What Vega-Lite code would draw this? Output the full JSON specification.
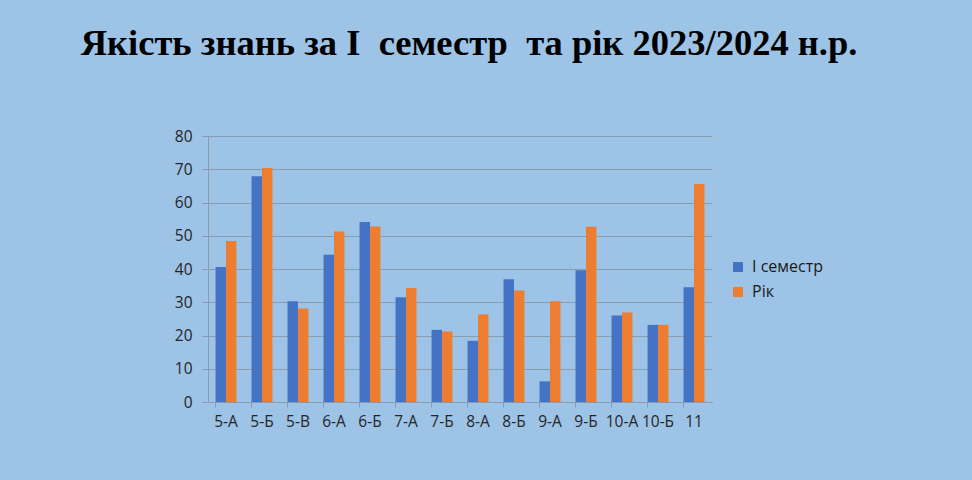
{
  "$schema": "https://vega.github.io/schema/vega-lite/v6.json",
  "autosize": "none",
  "width": 504,
  "height": 266,
  "padding": {"left": 208, "top": 136, "right": 260, "bottom": 78},
  "background": "#9DC3E6",
  "title": {
    "text": "Якість знань за І\u00a0 семестр\u00a0 та рік 2023/2024 н.р.",
    "font": "Liberation Serif",
    "fontSize": 36.5,
    "fontWeight": "bold",
    "color": "#000000",
    "anchor": "middle",
    "frame": "group",
    "baseline": "alphabetic",
    "offset": 38,
    "dx": 9
  },
  "data": {
    "values": [
      {"class": "5-А", "series": "І семестр", "value": 40.6},
      {"class": "5-А", "series": "Рік", "value": 48.4},
      {"class": "5-Б", "series": "І семестр", "value": 67.9},
      {"class": "5-Б", "series": "Рік", "value": 70.4},
      {"class": "5-В", "series": "І семестр", "value": 30.3},
      {"class": "5-В", "series": "Рік", "value": 28.1},
      {"class": "6-А", "series": "І семестр", "value": 44.3},
      {"class": "6-А", "series": "Рік", "value": 51.3},
      {"class": "6-Б", "series": "І семестр", "value": 54.1},
      {"class": "6-Б", "series": "Рік", "value": 52.8},
      {"class": "7-А", "series": "І семестр", "value": 31.5},
      {"class": "7-А", "series": "Рік", "value": 34.3},
      {"class": "7-Б", "series": "І семестр", "value": 21.7},
      {"class": "7-Б", "series": "Рік", "value": 21.2},
      {"class": "8-А", "series": "І семестр", "value": 18.4},
      {"class": "8-А", "series": "Рік", "value": 26.3},
      {"class": "8-Б", "series": "І семестр", "value": 36.9},
      {"class": "8-Б", "series": "Рік", "value": 33.5},
      {"class": "9-А", "series": "І семестр", "value": 6.2},
      {"class": "9-А", "series": "Рік", "value": 30.3},
      {"class": "9-Б", "series": "І семестр", "value": 39.6},
      {"class": "9-Б", "series": "Рік", "value": 52.7},
      {"class": "10-А", "series": "І семестр", "value": 26.0},
      {"class": "10-А", "series": "Рік", "value": 26.9},
      {"class": "10-Б", "series": "І семестр", "value": 23.2},
      {"class": "10-Б", "series": "Рік", "value": 23.2},
      {"class": "11", "series": "І семестр", "value": 34.5},
      {"class": "11", "series": "Рік", "value": 65.6}
    ]
  },
  "mark": {"type": "bar"},
  "encoding": {
    "x": {
      "field": "class",
      "type": "nominal",
      "sort": null,
      "title": null,
      "scale": {"paddingInner": 0.42, "paddingOuter": 0.21},
      "axis": {
        "labelAngle": 0,
        "bandPosition": 0,
        "ticks": true,
        "tickSize": 5,
        "tickColor": "#8a9bb0",
        "domainColor": "#8a9bb0",
        "labelPadding": 7,
        "labelFont": "Open Sans",
        "labelFontSize": 15.5,
        "labelColor": "#262626",
        "grid": false
      }
    },
    "xOffset": {"field": "series", "type": "nominal", "scale": {"paddingInner": 0, "paddingOuter": 0}},
    "y": {
      "field": "value",
      "type": "quantitative",
      "title": null,
      "scale": {"domain": [0, 80], "nice": false},
      "axis": {
        "values": [0, 10, 20, 30, 40, 50, 60, 70, 80],
        "tickSize": 6,
        "tickColor": "#8a9bb0",
        "domainColor": "#8a9bb0",
        "gridColor": "#8a9bb0",
        "labelPadding": 10,
        "labelFont": "Open Sans",
        "labelFontSize": 15.5,
        "labelColor": "#262626"
      }
    },
    "color": {
      "field": "series",
      "type": "nominal",
      "scale": {"domain": ["І семестр", "Рік"], "range": ["#4472C4", "#ED7D31"]},
      "legend": {
        "title": null,
        "orient": "none",
        "legendX": 522,
        "legendY": 123,
        "padding": 0,
        "symbolType": "square",
        "symbolSize": 100,
        "symbolStrokeWidth": 0,
        "labelFont": "Open Sans",
        "labelFontSize": 16,
        "labelColor": "#1a1a1a",
        "labelOffset": 6,
        "rowPadding": 9
      }
    }
  },
  "config": {"view": {"stroke": null}}
}
